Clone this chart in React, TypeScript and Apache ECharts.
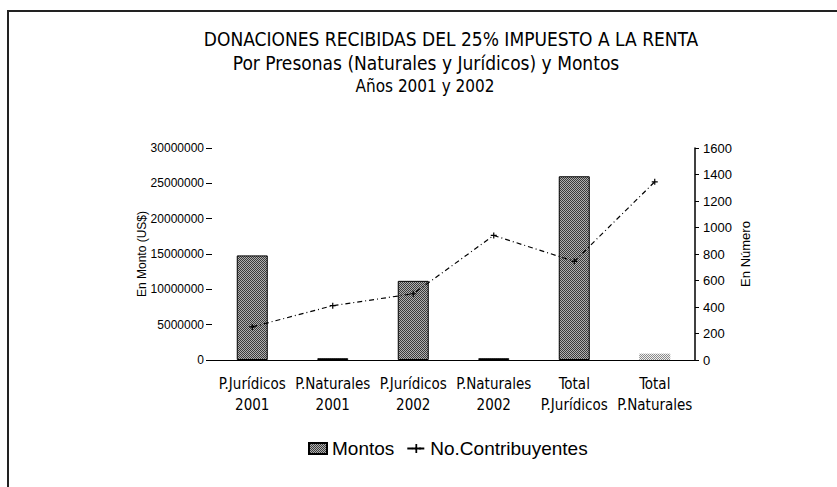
import React, { useEffect, useRef } from "react";
import * as echarts from "echarts";

const categories = [
  "P.Jurídicos\n2001",
  "P.Naturales\n2001",
  "P.Jurídicos\n2002",
  "P.Naturales\n2002",
  "Total\nP.Jurídicos",
  "Total\nP.Naturales",
];
const montos = [14800000, 250000, 11200000, 250000, 26000000, 900000];
const contribuyentes = [250, 410, 500, 940, 745, 1345];
const titleLines = [
  "DONACIONES RECIBIDAS DEL 25% IMPUESTO A LA RENTA",
  "Por Presonas (Naturales y Jurídicos) y Montos",
  "Años 2001 y 2002",
];

const NARROW = '"Liberation Sans Narrow", "DejaVu Sans Condensed", "Liberation Sans", Arial, sans-serif';
const REG = '"Liberation Sans", Arial, sans-serif';

function makePattern(a: string, b: string) {
  const c = document.createElement("canvas");
  c.width = 4;
  c.height = 4;
  const ctx = c.getContext("2d")!;
  for (let y = 0; y < 4; y++) {
    for (let x = 0; x < 4; x++) {
      ctx.fillStyle = (x + y) % 2 === 0 ? a : b;
      ctx.fillRect(x, y, 1, 1);
    }
  }
  return { image: c, repeat: "repeat" } as any;
}

export default function App() {
  const ref = useRef<HTMLDivElement>(null);
  useEffect(() => {
    if (!ref.current) return;
    const chart = echarts.init(ref.current, null, { renderer: "svg" });
    const dark = makePattern("#3a3a3a", "#b0b0b0");
    const light = makePattern("#8a8a8a", "#f0f0f0");
    const barData = montos.map((v, i) =>
      i === montos.length - 1
        ? { value: v, itemStyle: { color: light, borderWidth: 0 } }
        : { value: v }
    );
    const tStyle = { fontFamily: NARROW, fontSize: 19, fontWeight: "normal", color: "#000" };
    chart.setOption({
      animation: false,
      backgroundColor: "#fff",
      title: [
        { text: titleLines[0], left: 446, top: 24, textAlign: "center", textStyle: tStyle },
        { text: titleLines[1], left: 421, top: 48, textAlign: "center", textStyle: tStyle },
        { text: titleLines[2], left: 420, top: 72, textAlign: "center", textStyle: { ...tStyle, fontSize: 17 } },
      ],
      graphic: [
        { type: "line", shape: { x1: 7, y1: 11, x2: 837, y2: 11 }, style: { stroke: "#222", lineWidth: 2 } },
        { type: "line", shape: { x1: 8, y1: 11, x2: 8, y2: 487 }, style: { stroke: "#222", lineWidth: 2 } },
      ],
      legend: {
        left: 303,
        top: 434,
        itemWidth: 18,
        itemHeight: 11,
        itemGap: 12,
        textStyle: { fontFamily: REG, fontSize: 19, color: "#000" },
        data: [
          { name: "Montos", icon: "rect" },
          { name: "No.Contribuyentes" },
        ],
      },
      grid: { left: 212, right: 142, top: 148, bottom: 127 },
      xAxis: {
        type: "category",
        data: categories,
        axisLine: { lineStyle: { color: "#000", width: 1 } },
        axisTick: {
          length: 6,
          lineStyle: { color: "#000" },
          interval: (i: number) => i >= 1 && i <= 3,
        },
        axisLabel: { fontFamily: NARROW, fontSize: 15, color: "#000", lineHeight: 21, margin: 13, interval: 0 },
      },
      yAxis: [
        {
          type: "value",
          min: 0,
          max: 30000000,
          interval: 5000000,
          name: "En Monto (US$)",
          nameLocation: "middle",
          nameRotate: 90,
          nameGap: 64,
          nameMoveOverlap: false,
          nameTextStyle: { fontFamily: REG, fontSize: 12, color: "#000" },
          axisLine: { show: false },
          axisTick: { show: true, length: 6, lineStyle: { color: "#000" } },
          splitLine: { show: false },
          axisLabel: { fontFamily: REG, fontSize: 12, color: "#000", margin: 8, formatter: (v: number) => String(v) },
        },
        {
          type: "value",
          min: 0,
          max: 1600,
          interval: 200,
          name: "En Número",
          nameLocation: "middle",
          nameRotate: 90,
          nameGap: 44,
          nameMoveOverlap: false,
          nameTextStyle: { fontFamily: REG, fontSize: 13, color: "#000" },
          axisLine: { show: true, lineStyle: { color: "#000", width: 1.5 } },
          axisTick: { show: true, length: 4, lineStyle: { color: "#000" } },
          splitLine: { show: false },
          axisLabel: { fontFamily: REG, fontSize: 13, color: "#000", margin: 8, formatter: (v: number) => String(v) },
        },
      ],
      series: [
        {
          name: "Montos",
          type: "bar",
          data: barData,
          barWidth: 31,
          itemStyle: { color: dark, borderColor: "#000", borderWidth: 1 },
        },
        {
          name: "No.Contribuyentes",
          type: "line",
          yAxisIndex: 1,
          data: contribuyentes,
          symbol: "path://M4,0H6V4H10V6H6V10H4V6H0V4H4Z",
          symbolSize: 6,
          itemStyle: { color: "#000" },
          lineStyle: { color: "#000", width: 1.2, type: [5, 3, 1, 3] },
        },
      ],
    });
    return () => chart.dispose();
  }, []);
  return (
    <div
      ref={ref}
      style={{ position: "fixed", left: 0, top: 0, width: 837, height: 487 }}
    />
  );
}
